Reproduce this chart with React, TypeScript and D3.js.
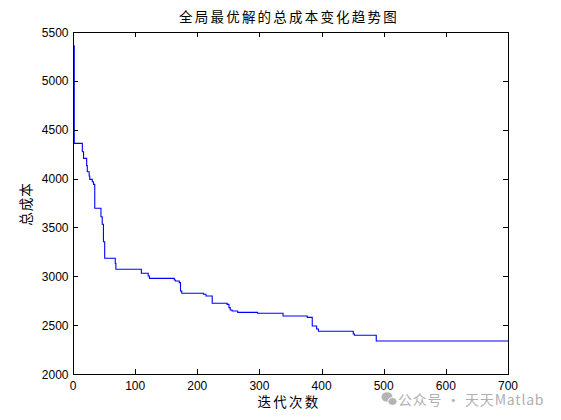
import React from "react";
import * as d3 from "d3";

// Iterations where the global best cost changes, and the cost from that iteration on
const iterations = [1, 2, 15, 17, 22, 23, 26, 27, 31, 33, 35, 45, 47, 49, 51, 68, 69, 110, 121, 123, 163, 165, 171, 173, 175, 210, 214, 224, 248, 251, 253, 256, 265, 297, 338, 377, 385, 392, 395, 451, 453, 488];
const costs = [5360, 4360, 4275, 4207, 4132, 4070, 4026, 3992, 3968, 3941, 3696, 3610, 3532, 3354, 3184, 3133, 3072, 3031, 3003, 2979, 2962, 2952, 2935, 2850, 2826, 2816, 2798, 2724, 2713, 2679, 2655, 2645, 2631, 2621, 2594, 2580, 2491, 2460, 2437, 2409, 2396, 2338];
const lastIteration = 700;

const xTicks = [0, 100, 200, 300, 400, 500, 600, 700];
const yTicks = [2000, 2500, 3000, 3500, 4000, 4500, 5000, 5500];

const title = "全局最优解的总成本变化趋势图";
const xLabel = "迭代次数";
const yLabel = "总成本";
const watermark = "公众号 · 天天Matlab";

const W = 561;
const H = 420;
const L = 73, R = 508, T = 32, B = 374;
const TICK = 5;
const numFont = "'Liberation Sans', Arial, sans-serif";
const cjkFont = "'Noto Sans CJK SC', sans-serif";

export default function App() {
  const x = d3.scaleLinear().domain([0, 700]).range([L, R]);
  const y = d3.scaleLinear().domain([2000, 5500]).range([B, T]);

  const pts: [number, number][] = iterations.map((it, i) => [it, costs[i]]);
  pts.push([lastIteration, costs[costs.length - 1]]);
  const line = d3
    .line<[number, number]>()
    .x((d) => x(d[0]))
    .y((d) => y(d[1]))
    .curve(d3.curveStepAfter);

  return (
    <svg
      width={W}
      height={H}
      style={{ position: "absolute", left: 0, top: 0, background: "#fff" }}
    >
      <rect x={0} y={0} width={W} height={H} fill="#fff" />
      {/* data line */}
      <path d={line(pts) || ""} fill="none" stroke="#0000ff" strokeWidth={1.1} />
      {/* box */}
      <rect
        x={L + 0.5}
        y={T + 0.5}
        width={R - L}
        height={B - T}
        fill="none"
        stroke="#000"
        strokeWidth={1}
        shapeRendering="crispEdges"
      />
      {/* x ticks */}
      {xTicks.map((t) => (
        <g key={"x" + t}>
          <line x1={x(t) + 0.5} x2={x(t) + 0.5} y1={B} y2={B - TICK} stroke="#000" shapeRendering="crispEdges" />
          <line x1={x(t) + 0.5} x2={x(t) + 0.5} y1={T} y2={T + TICK} stroke="#000" shapeRendering="crispEdges" />
          <text x={x(t)} y={390} textAnchor="middle" fontFamily={numFont} fontSize={12} fill="#000">
            {t}
          </text>
        </g>
      ))}
      {/* y ticks */}
      {yTicks.map((t) => (
        <g key={"y" + t}>
          <line x1={L} x2={L + TICK} y1={y(t) + 0.5} y2={y(t) + 0.5} stroke="#000" shapeRendering="crispEdges" />
          <line x1={R} x2={R - TICK} y1={y(t) + 0.5} y2={y(t) + 0.5} stroke="#000" shapeRendering="crispEdges" />
          <text x={68.5} y={y(t) + 4.5} textAnchor="end" fontFamily={numFont} fontSize={12} fill="#000">
            {t}
          </text>
        </g>
      ))}
      {/* title */}
      <text x={289} y={22} textAnchor="middle" fontFamily={cjkFont} fontSize={13.5} letterSpacing={2.2} fill="#000">
        {title}
      </text>
      {/* x label */}
      <text x={289} y={407} textAnchor="middle" fontFamily={cjkFont} fontSize={13.5} letterSpacing={2.2} fill="#000">
        {xLabel}
      </text>
      {/* y label */}
      <text
        x={0}
        y={0}
        transform={`translate(30.5, ${(T + B) / 2 + 1}) rotate(-90)`}
        textAnchor="middle"
        fontFamily={cjkFont}
        fontSize={13.5}
        letterSpacing={1}
        fill="#000"
      >
        {yLabel}
      </text>
      {/* watermark */}
      <g fill="#b4b4b4">
        <ellipse cx={387} cy={397} rx={5.5} ry={4.8} />
        <ellipse cx={392.5} cy={401.5} rx={4.6} ry={3.9} stroke="#fff" strokeWidth={1} />
        <text x={398} y={404.5} fontFamily={cjkFont} fontSize={14} letterSpacing={0.8} fill="#b0b0b0">
          {watermark}
        </text>
      </g>
    </svg>
  );
}
